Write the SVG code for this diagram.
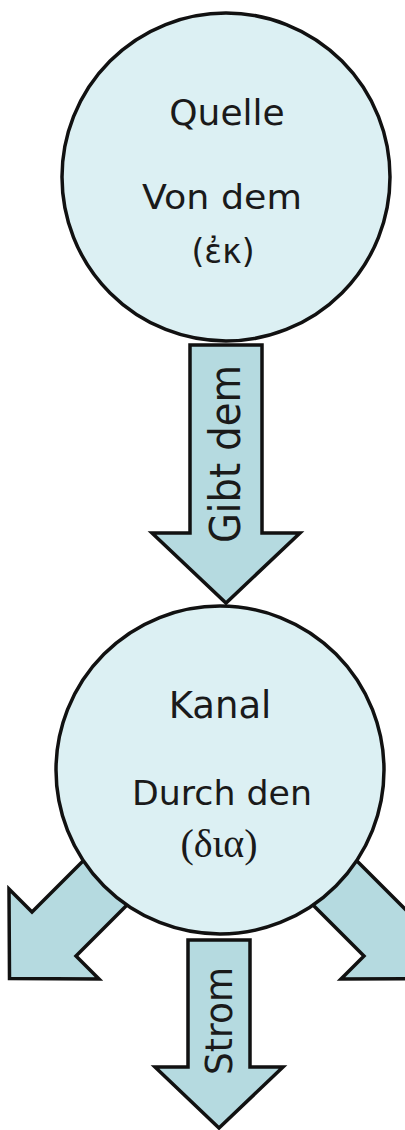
<svg xmlns="http://www.w3.org/2000/svg" width="405" height="1130" viewBox="0 0 405 1130">
  <style>
    .node { fill: #dcf0f3; stroke: #111; stroke-width: 3.5; }
    .flow { fill: #b5dae0; stroke: #111; stroke-width: 3.5; stroke-linejoin: miter; }
    .t { font-family: "DejaVu Sans", "Liberation Sans", sans-serif; fill: #1a1a1a; text-anchor: middle; }
    .g { font-family: "Liberation Serif", "DejaVu Serif", serif; fill: #1a1a1a; text-anchor: middle; }
  </style>
  <rect width="405" height="1130" fill="#ffffff"/>

  <!-- flow arrows, drawn beneath the circles -->
  <g id="connectors">
    <g id="arrow-gibt-dem">
      <polygon class="flow" points="190,345 262,345 262,533 300,533 226,603 152,533 190,533"/>
      <text class="t" font-size="42" textLength="178" lengthAdjust="spacingAndGlyphs" transform="translate(240,454) rotate(-90)">Gibt dem</text>
    </g>
    <g id="arrow-left">
      <polygon class="flow" points="152,792 32,912 9,889 9.5,978.5 99,979 76,956 196,836"/>
    </g>
    <g id="arrow-right">
      <polygon class="flow" points="288,792 408,912 431,889 430.5,978.5 341,979 364,956 244,836"/>
    </g>
    <g id="arrow-strom">
      <polygon class="flow" points="188,940 250,940 250,1067 283,1067 219,1128 155,1067 188,1067"/>
      <text class="t" font-size="38" textLength="108" lengthAdjust="spacingAndGlyphs" transform="translate(232,1021) rotate(-90)">Strom</text>
    </g>
  </g>

  <!-- source -->
  <g id="quelle">
    <circle class="node" cx="226" cy="177" r="164"/>
    <text class="t" x="227" y="125" font-size="36">Quelle</text>
    <text class="t" x="222" y="209" font-size="33" textLength="160" lengthAdjust="spacingAndGlyphs">Von dem</text>
    <text class="t" x="223" y="263" font-size="33">(ἐκ)</text>
  </g>

  <!-- channel -->
  <g id="kanal">
    <circle class="node" cx="220" cy="770" r="164"/>
    <text class="t" x="220" y="718" font-size="37">Kanal</text>
    <text class="t" x="222" y="805" font-size="33" textLength="180" lengthAdjust="spacingAndGlyphs">Durch den</text>
    <text class="g" x="219" y="857" font-size="40">(δια)</text>
  </g>
</svg>
